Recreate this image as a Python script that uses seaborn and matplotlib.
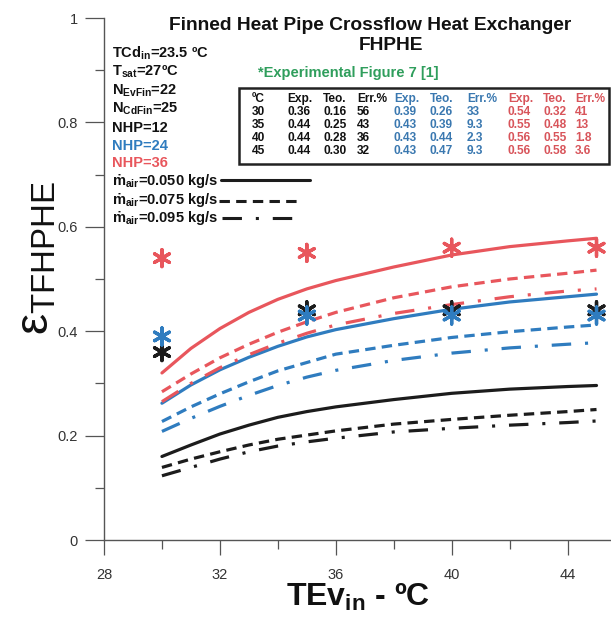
import matplotlib
matplotlib.use("Agg")
import matplotlib.pyplot as plt
import numpy as np
import pandas as pd
import seaborn as sns
from matplotlib.lines import Line2D
from matplotlib.patches import Rectangle

# ---------------- data ----------------
x_theory = [30, 31, 32, 33, 34, 35, 36, 38, 40, 42, 44, 45]
eff_nhp12_m050 = [0.160, 0.182, 0.203, 0.220, 0.235, 0.246, 0.255, 0.269, 0.281, 0.289, 0.294, 0.296]
eff_nhp12_m075 = [0.139, 0.155, 0.169, 0.182, 0.193, 0.201, 0.209, 0.222, 0.231, 0.239, 0.246, 0.250]
eff_nhp12_m095 = [0.123, 0.139, 0.155, 0.169, 0.180, 0.188, 0.195, 0.207, 0.214, 0.220, 0.225, 0.228]
eff_nhp24_m050 = [0.262, 0.297, 0.326, 0.350, 0.371, 0.389, 0.403, 0.424, 0.442, 0.456, 0.466, 0.471]
eff_nhp24_m075 = [0.227, 0.255, 0.280, 0.303, 0.324, 0.340, 0.356, 0.373, 0.388, 0.399, 0.408, 0.412]
eff_nhp24_m095 = [0.208, 0.233, 0.256, 0.277, 0.296, 0.312, 0.325, 0.344, 0.358, 0.368, 0.375, 0.378]
eff_nhp36_m050 = [0.320, 0.367, 0.405, 0.436, 0.461, 0.481, 0.497, 0.523, 0.546, 0.562, 0.573, 0.578]
eff_nhp36_m075 = [0.284, 0.318, 0.349, 0.375, 0.398, 0.418, 0.436, 0.464, 0.485, 0.500, 0.511, 0.517]
eff_nhp36_m095 = [0.265, 0.300, 0.330, 0.355, 0.377, 0.396, 0.412, 0.434, 0.451, 0.466, 0.477, 0.481]

temps_exp = [30, 35, 40, 45]
exp_nhp12 = [0.36, 0.44, 0.44, 0.44]
teo_nhp12 = [0.16, 0.25, 0.28, 0.30]
err_nhp12 = ["56", "43", "36", "32"]
exp_nhp24 = [0.39, 0.43, 0.43, 0.43]
teo_nhp24 = [0.26, 0.39, 0.44, 0.47]
err_nhp24 = ["33", "9.3", "2.3", "9.3"]
exp_nhp36 = [0.54, 0.55, 0.56, 0.56]
teo_nhp36 = [0.32, 0.48, 0.55, 0.58]
err_nhp36 = ["41", "13", "1.8", "3.6"]

nhp_levels = ["12", "24", "36"]
flow_levels = ["0.050", "0.075", "0.095"]
x_ticks = [28, 32, 36, 40, 44]
y_ticks = [0, 0.2, 0.4, 0.6, 0.8, 1.0]
y_tick_labels = ["0", "0.2", "0.4", "0.6", "0.8", "1"]

# ---------------- styles ----------------
BLACK = "#1c1c1c"
BLUE = "#2f7cbf"
RED = "#e8565c"
GREEN = "#2f9e5c"
TBLUE = "#3a78b0"
TRED = "#d8545a"
palette = {"12": BLACK, "24": BLUE, "36": RED}
dash_map = {"0.050": "", "0.075": (7.5, 4.5), "0.095": (14, 10, 2.2, 10)}

sns.set_theme(style="white")
plt.rcParams["font.family"] = ["Liberation Sans", "DejaVu Sans"]
plt.rcParams["mathtext.fontset"] = "custom"
plt.rcParams["mathtext.rm"] = "Liberation Sans:bold"
plt.rcParams["mathtext.it"] = "Liberation Sans:bold"
plt.rcParams["mathtext.bf"] = "Liberation Sans:bold"
plt.rcParams["lines.scale_dashes"] = False

W, H = 611, 617
fig = plt.figure(figsize=(W / 100, H / 100), dpi=100)
fig.patch.set_facecolor("white")


def fx(px):
    return px / W


def fy(py):
    return 1 - py / H


ax = fig.add_axes([fx(104), fy(540), fx(611 - 104), (540 - 18) / H])
ax.set_facecolor("white")

# theory curves
curves = {
    ("12", "0.050"): eff_nhp12_m050, ("12", "0.075"): eff_nhp12_m075, ("12", "0.095"): eff_nhp12_m095,
    ("24", "0.050"): eff_nhp24_m050, ("24", "0.075"): eff_nhp24_m075, ("24", "0.095"): eff_nhp24_m095,
    ("36", "0.050"): eff_nhp36_m050, ("36", "0.075"): eff_nhp36_m075, ("36", "0.095"): eff_nhp36_m095,
}
rows = []
for (nhp, flow), vals in curves.items():
    for xv, yv in zip(x_theory, vals):
        rows.append({"TEv": xv, "eff": yv, "NHP": nhp, "flow": flow})
df = pd.DataFrame(rows)

sns.lineplot(data=df, x="TEv", y="eff", hue="NHP", style="flow",
             hue_order=nhp_levels, style_order=flow_levels,
             palette=palette, dashes=dash_map, linewidth=2.3,
             estimator=None, sort=False, legend=False, ax=ax)

# experimental points (black first, blue on top, then red)
erows = []
for nhp, vals in zip(["12", "24", "36"], [exp_nhp12, exp_nhp24, exp_nhp36]):
    for xv, yv in zip(temps_exp, vals):
        erows.append({"TEv": xv, "eff": yv, "NHP": nhp})
dfe = pd.DataFrame(erows)
sns.scatterplot(data=dfe, x="TEv", y="eff", hue="NHP", palette=palette,
                marker=(6, 2, 0), s=150, linewidth=2.4, legend=False, ax=ax,
                zorder=5)

ax.set_xlim(28, 45.5)
ax.set_ylim(0, 1)
ax.set_xticks(x_ticks)
ax.set_xticks([30, 34, 38, 42], minor=True)
ax.set_yticks(y_ticks)
ax.set_yticklabels(y_tick_labels)
ax.set_yticks(np.arange(0.1, 1.0, 0.2), minor=True)
for s in ["top", "right"]:
    ax.spines[s].set_visible(False)
for s in ["left", "bottom"]:
    ax.spines[s].set_color("#555555")
    ax.spines[s].set_linewidth(1.0)
ax.tick_params(axis="both", which="both", direction="out", color="#555555",
               width=0.9, labelcolor="#333333", labelsize=10.5,
               bottom=True, left=True, top=False, right=False)
ax.tick_params(axis="x", which="major", length=11, pad=9)
ax.tick_params(axis="x", which="minor", length=6.5)
ax.tick_params(axis="y", which="major", length=14, pad=5)
ax.tick_params(axis="y", which="minor", length=6.5)
ax.set_xlabel("")
ax.set_ylabel("")

# axis labels
fig.text(fx(358), fy(597), "TEv$_{\\mathregular{in}}$ - ºC", fontsize=23,
         fontweight="bold", ha="center", va="center", color="#111111")
fig.text(fx(36), fy(258), "ε$_{\\mathregular{TFHPHE}}$", fontsize=34,
         rotation=90, ha="center", va="center", color="#111111")

# title
fig.text(fx(370), fy(25), "Finned Heat Pipe Crossflow Heat Exchanger", fontsize=13.8,
         fontweight="bold", ha="center", va="center", color="#111111")
fig.text(fx(391), fy(46), "FHPHE", fontsize=13.8, fontweight="bold",
         ha="center", va="center", color="#111111")
fig.text(fx(258), fy(73), "*Experimental Figure 7 [1]", fontsize=10.5,
         fontweight="bold", ha="left", va="center", color=GREEN)

# left annotation block
left_lines = [
    ("TCd$_{\\mathregular{in}}$=23.5 ºC", 53, "#111111"),
    ("T$_{\\mathregular{sat}}$=27ºC", 72, "#111111"),
    ("N$_{\\mathregular{EvFin}}$=22", 91, "#111111"),
    ("N$_{\\mathregular{CdFin}}$=25", 109, "#111111"),
    ("NHP=12", 128, "#111111"),
    ("NHP=24", 146, BLUE),
    ("NHP=36", 163, RED),
    ("ṁ$_{\\mathregular{air}}$=0.050 kg/s", 181, "#111111"),
    ("ṁ$_{\\mathregular{air}}$=0.075 kg/s", 200, "#111111"),
    ("ṁ$_{\\mathregular{air}}$=0.095 kg/s", 218, "#111111"),
]
for txt, py, col in left_lines:
    fig.text(fx(112), fy(py), txt, fontsize=10.5, fontweight="bold",
             ha="left", va="center", color=col)

for flow, py, x0, x1 in [("0.050", 180, 221, 310), ("0.075", 201, 219, 300), ("0.095", 218, 222, 305)]:
    ln = Line2D([fx(x0), fx(x1)], [fy(py), fy(py)], transform=fig.transFigure,
                color=BLACK, lw=2.2)
    d = dash_map[flow]
    if d:
        ln.set_dashes(d)
    fig.add_artist(ln)

# table
fig.add_artist(Rectangle((fx(239), fy(164)), fx(609 - 239), (164 - 88) / H,
                         transform=fig.transFigure, fill=False,
                         edgecolor="#222222", lw=1.8))
col_left = [252, 287, 323, 357, 394, 430, 467, 508, 543, 575]
header = ["ºC", "Exp.", "Teo.", "Err.%", "Exp.", "Teo.", "Err.%", "Exp.", "Teo.", "Err.%"]
hcols = ["#111111"] * 4 + [TBLUE] * 3 + [TRED] * 3
TFS = 8.6
for cx, t, c in zip(col_left, header, hcols):
    fig.text(fx(cx), fy(99), t, fontsize=TFS, fontweight="bold",
             ha="left", va="center", color=c)
columns = [
    [str(t) for t in temps_exp],
    [f"{v:.2f}" for v in exp_nhp12], [f"{v:.2f}" for v in teo_nhp12], err_nhp12,
    [f"{v:.2f}" for v in exp_nhp24], [f"{v:.2f}" for v in teo_nhp24], err_nhp24,
    [f"{v:.2f}" for v in exp_nhp36], [f"{v:.2f}" for v in teo_nhp36], err_nhp36,
]
for cx, colvals, c in zip(col_left, columns, hcols):
    fig.text(fx(cx), fy(131.5), "\n".join(colvals), fontsize=TFS, fontweight="bold",
             ha="left", va="center", multialignment="left", linespacing=1.1,
             color=c)

fig.savefig("out.png", dpi=100, facecolor="white")
